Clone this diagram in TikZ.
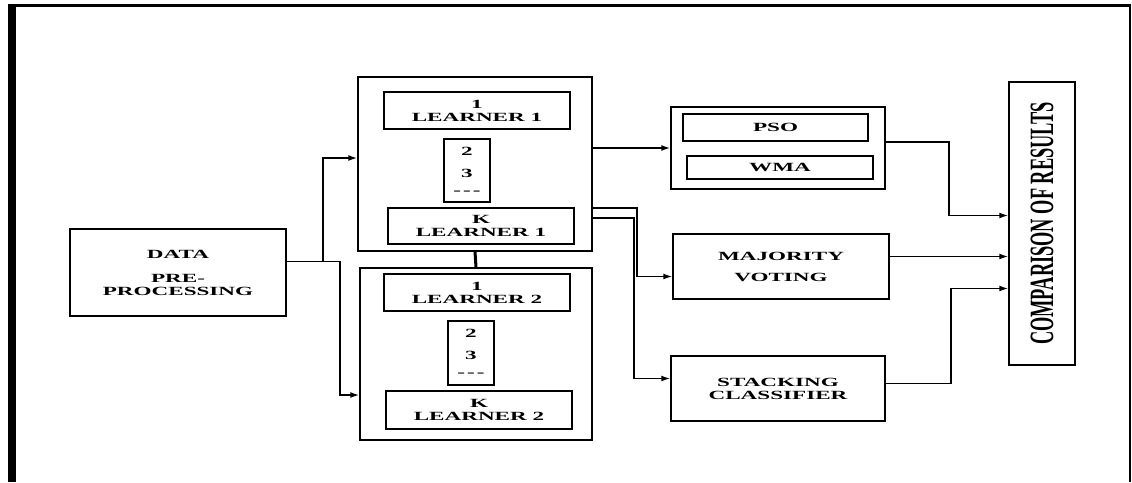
\documentclass[tikz,border=0pt]{standalone}
\usepackage{fontspec}
\usetikzlibrary{arrows.meta}
\newfontface\boxfont[FakeStretch=1.85]{Liberation Serif Bold}
\newfontface\sidefont[FakeStretch=0.54]{Liberation Serif Bold}
\tikzset{
  box/.style={draw, line width=1.5pt, inner sep=0pt, align=center,
    font=\boxfont\fontsize{12.5}{13}\selectfont},
  link/.style={line width=1.5pt},
  arr/.style={link, -{Latex[length=9pt,width=6pt]}}
}
\begin{document}
\begin{tikzpicture}[x=1pt,y=-1pt]
  \useasboundingbox (0,0) rectangle (1132,482);
  % frame round the page
  \draw[line width=3pt] (8,5.5) -- (1130,5.5);
  \draw[line width=8pt] (12,4) -- (12,482);
  \draw[line width=2pt] (1130,4) -- (1130,482);

  % input
  \node[box, minimum width=216, minimum height=87] (data) at (178,272.5) {DATA\\[11pt]PRE-\\PROCESSING};

  % first group of learners
  \node[box, minimum width=234, minimum height=174] (grpA) at (475,164) {};
  \node[box, minimum width=186, minimum height=37] (a1) at (477,110.5) {1\\LEARNER 1};
  \node[box, minimum width=46, minimum height=63] (adots) at (467,170.5) {2\\[9pt]3\\[4pt]-\kern2pt-\kern2pt-};
  \node[box, minimum width=186, minimum height=36] (ak) at (481,226) {K\\LEARNER 1};

  % second group of learners
  \node[box, minimum width=232, minimum height=172] (grpB) at (476,354) {};
  \node[box, minimum width=186, minimum height=37] (b1) at (477,292.5) {1\\LEARNER 2};
  \node[box, minimum width=46, minimum height=64] (bdots) at (471,353) {2\\[9pt]3\\[4pt]-\kern2pt-\kern2pt-};
  \node[box, minimum width=186, minimum height=38] (bk) at (479,410) {K\\LEARNER 2};

  % ensembles
  \node[box, minimum width=214, minimum height=82] (ens) at (778,148) {};
  \node[box, minimum width=185, minimum height=27] (pso) at (775.5,127.5) {PSO};
  \node[box, minimum width=186, minimum height=23] (wma) at (780,167.5) {WMA};
  \node[box, minimum width=216, minimum height=65] (vote) at (781,266.5) {MAJORITY\\[8pt]VOTING};
  \node[box, minimum width=214, minimum height=65] (stack) at (778,388.5) {STACKING\\CLASSIFIER};

  % output
  \node[box, minimum width=66, minimum height=283] (cmp) at (1042,223.5) {};
  \node[rotate=90, inner sep=0pt, font=\sidefont\fontsize{34}{34}\selectfont] (cmplabel) at (cmp.center) {COMPARISON OF RESULTS};

  % connectors
  \draw[arr] ([yshift=11pt]data.east) -- ++(36,0) |- ([yshift=6pt]grpA.west);
  \draw[arr] ([yshift=11pt]data.east) -- ++(53,0) |- ([yshift=-41pt]grpB.west);
  \draw[link, line width=3pt] (grpA.south) -- (grpB.north);
  \draw[arr] (grpA.east |- ens.west) -- (ens.west);
  \draw[arr] ([yshift=-44pt]grpA.east) -- ++(44,0) |- ([yshift=-10pt]vote.west);
  \draw[arr] ([yshift=-54pt]grpA.east) -- ++(41,0) |- ([yshift=10pt]stack.west);
  \draw[arr] ([yshift=6pt]ens.east) -- ++(63,0) |- ([yshift=8pt]cmp.west);
  \draw[arr] ([yshift=10pt]vote.east) -- ([yshift=10pt]vote.east -| cmp.west);
  \draw[arr] ([yshift=5pt]stack.east) -- ++(65,0) |- ([yshift=-65pt]cmp.west);
\end{tikzpicture}
\end{document}
